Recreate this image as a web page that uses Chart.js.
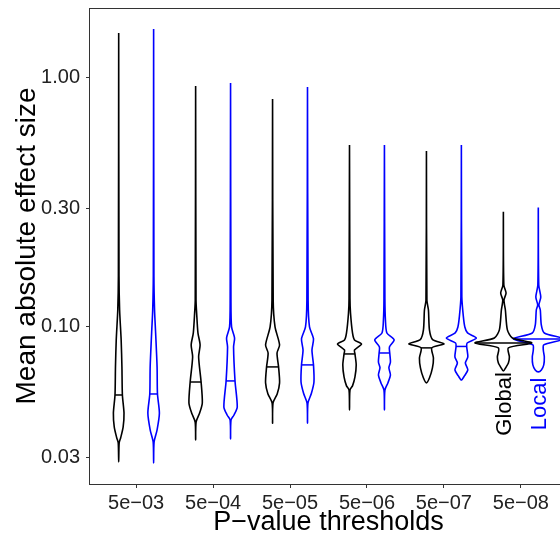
<!DOCTYPE html>
<html><head><meta charset="utf-8">
<script src="https://cdn.jsdelivr.net/npm/chart.js@4"></script>
<style>
html,body{margin:0;padding:0;overflow:hidden;background:#fff;width:560px;height:540px}
#wrap{width:580px;height:540px;position:relative}
</style>
</head><body><div id="wrap"><canvas id="c" width="580" height="540"></canvas></div>
<script>
// ---- data ----
const categories = ['5e\u221203','5e\u221204','5e\u221205','5e\u221206','5e\u221207','5e\u221208'];
const yTickValues = [0.03, 0.1, 0.3, 1];
const yTickLabels = ['0.03', '0.10', '0.30', '1.00'];
const seriesNames = ['Global', 'Local'];

// violin profiles: [effect size, half width of density (category units)]
const global1 = [[1.516,0],[0.16,0.004],[0.117,0.012],[0.0887,0.032],[0.0691,0.042],[0.0533,0.048],[0.0451,0.069],[0.0397,0.058],[0.0359,0.026],[0.0342,0.006],[0.0287,0]];
const global2 = [[0.929,0],[0.128,0.005],[0.1138,0.013],[0.0946,0.03],[0.0847,0.058],[0.0758,0.039],[0.0601,0.071],[0.0495,0.087],[0.0451,0.052],[0.0415,0.006],[0.0352,0]];
const global3 = [[0.823,0],[0.128,0.008],[0.1,0.032],[0.0847,0.091],[0.0786,0.058],[0.0691,0.078],[0.0596,0.091],[0.0538,0.06],[0.0495,0.006],[0.0411,0]];
const global4 = [[0.538,0],[0.13,0.006],[0.1138,0.013],[0.0946,0.039],[0.0887,0.065],[0.0855,0.156],[0.0808,0.065],[0.0779,0.071],[0.0704,0.087],[0.063,0.071],[0.058,0.039],[0.0558,0.006],[0.0464,0]];
const global5 = [[0.509,0],[0.128,0.006],[0.117,0.026],[0.0973,0.039],[0.089,0.08],[0.0855,0.23],[0.0824,0.07],[0.0751,0.091],[0.0685,0.078],[0.0625,0.04],[0.0596,0]];
const global6 = [[0.290,0],[0.1475,0.006],[0.1369,0.035],[0.1283,0.008],[0.117,0.026],[0.0973,0.052],[0.0903,0.117],[0.0862,0.37],[0.0824,0.065],[0.0758,0.078],[0.0716,0.065],[0.069,0.035],[0.0665,0]];

const local1 = [[1.573,0],[0.16,0.004],[0.117,0.012],[0.0946,0.026],[0.0691,0.045],[0.0538,0.05],[0.0451,0.075],[0.0386,0.045],[0.0345,0.006],[0.0284,0]];
const local2 = [[0.955,0],[0.128,0.005],[0.1,0.013],[0.0903,0.052],[0.0831,0.039],[0.0607,0.058],[0.0477,0.087],[0.0443,0.045],[0.0423,0.006],[0.0355,0]];
const local3 = [[0.920,0],[0.128,0.008],[0.1,0.026],[0.0895,0.078],[0.0808,0.058],[0.0704,0.078],[0.0601,0.084],[0.054,0.05],[0.0495,0.006],[0.0411,0]];
const local4 = [[0.538,0],[0.13,0.006],[0.1067,0.013],[0.0946,0.032],[0.0887,0.126],[0.0831,0.065],[0.0786,0.069],[0.0723,0.078],[0.0685,0.058],[0.0642,0.078],[0.0596,0.045],[0.0558,0.006],[0.0464,0]];
const local5 = [[0.538,0],[0.132,0.006],[0.11,0.026],[0.1,0.045],[0.0946,0.08],[0.0903,0.195],[0.0862,0.075],[0.0835,0.069],[0.0758,0.084],[0.0717,0.052],[0.0672,0.084],[0.0636,0.04],[0.0612,0]];
const local6 = [[0.302,0],[0.1475,0.006],[0.132,0.032],[0.1226,0.008],[0.117,0.026],[0.1019,0.039],[0.0946,0.078],[0.0895,0.325],[0.0847,0.071],[0.0808,0.065],[0.0758,0.078],[0.0704,0.071],[0.0672,0.04],[0.066,0]];

const globalMedians = [0.0533, 0.0601, 0.0691, 0.0779, 0.0824, 0.0862];
const localMedians  = [0.0538, 0.0607, 0.0704, 0.0786, 0.0835, 0.0895];

// ---- build ----
const globalViolins = [global1, global2, global3, global4, global5, global6];
const localViolins  = [local1, local2, local3, local4, local5, local6];
const DODGE = 0.227;
const FONT = '"Liberation Sans", Arial, Helvetica, sans-serif';
const COLORS = ['#000000', '#0000ff'];

function outline(profile, center) {
  const right = profile.map(([v, w]) => ({x: center + w, y: v}));
  const left = profile.slice(0, -1).reverse().map(([v, w]) => ({x: center - w, y: v}));
  return right.concat(left);
}
function widthAt(profile, m) {
  for (let i = 0; i < profile.length - 1; i++) {
    const [v1, w1] = profile[i], [v2, w2] = profile[i + 1];
    if (m <= v1 && m >= v2) {
      const t = (Math.log(m) - Math.log(v1)) / (Math.log(v2) - Math.log(v1));
      return w1 + t * (w2 - w1);
    }
  }
  return 0;
}

const datasets = [];
[[globalViolins, globalMedians, -DODGE, COLORS[0]], [localViolins, localMedians, DODGE, COLORS[1]]].forEach(([violins, medians, off, col]) => {
  violins.forEach((prof, i) => {
    const c = i + 1 + off;
    datasets.push({data: outline(prof, c), borderColor: col, borderWidth: 1.6, showLine: true, pointRadius: 0, tension: 0.25, fill: false});
    const hw = widthAt(prof, medians[i]);
    datasets.push({data: [{x: c - hw, y: medians[i]}, {x: c + hw, y: medians[i]}], borderColor: col, borderWidth: 1.5, showLine: true, pointRadius: 0, tension: 0, fill: false});
  });
});

const framePlugin = {
  id: 'frame',
  afterDraw(chart) {
    const {ctx, chartArea: a, scales: {x, y}} = chart;
    ctx.save();
    ctx.strokeStyle = '#333333';
    ctx.lineWidth = 1;
    ctx.strokeRect(a.left - 0.5, a.top + 0.5, a.right - a.left + 1, a.bottom - a.top);
    // series labels
    ctx.font = '22px ' + FONT;
    ctx.textAlign = 'center';
    ctx.textBaseline = 'middle';
    seriesNames.forEach((name, k) => {
      const px = x.getPixelForValue(6 + (k === 0 ? -DODGE : DODGE)) + 2;
      const py = y.getPixelForValue(0.0491);
      ctx.save();
      ctx.translate(px, py);
      ctx.rotate(-Math.PI / 2);
      ctx.fillStyle = COLORS[k];
      ctx.fillText(name, 0, 0);
      ctx.restore();
    });
    ctx.restore();
  }
};

function noPad(s) { s.paddingTop = 0; s.paddingBottom = 0; s.paddingLeft = 0; s.paddingRight = 0; }

new Chart(document.getElementById('c'), {
  type: 'scatter',
  data: {datasets},
  options: {
    responsive: false,
    animation: false,
    events: [],
    layout: {padding: {left: 0, right: 13, top: 8, bottom: 0}},
    plugins: {legend: {display: false}, tooltip: {enabled: false}},
    scales: {
      x: {
        type: 'linear', min: 0.4, max: 6.6,
        afterBuildTicks(s) { s.ticks = categories.map((c, i) => ({value: i + 1})); },
        ticks: {callback: (v, i) => categories[i], font: {family: FONT, size: 20}, color: '#222', padding: 3, maxRotation: 0, autoSkip: false},
        grid: {drawOnChartArea: false, drawTicks: true, tickLength: 4, color: '#333', tickColor: '#333'},
        border: {display: false},
        title: {display: true, text: 'P\u2212value thresholds', font: {family: FONT, size: 27}, color: '#000', padding: {top: 0, bottom: 1}},
        afterFit(s) { s.height = 56; noPad(s); }
      },
      y: {
        type: 'logarithmic', min: 0.0234, max: 1.91,
        afterBuildTicks(s) { s.ticks = yTickValues.map(v => ({value: v})); },
        ticks: {callback: (v, i) => yTickLabels[i], font: {family: FONT, size: 20}, color: '#222', padding: 6, autoSkip: false},
        grid: {drawOnChartArea: false, drawTicks: true, tickLength: 4, color: '#333', tickColor: '#333'},
        border: {display: false},
        title: {display: true, text: 'Mean absolute effect size', font: {family: FONT, size: 28}, color: '#000', padding: {top: 10, bottom: 0}},
        afterFit(s) { s.width = 90; noPad(s); }
      }
    }
  },
  plugins: [framePlugin]
});
</script>
</body></html>
